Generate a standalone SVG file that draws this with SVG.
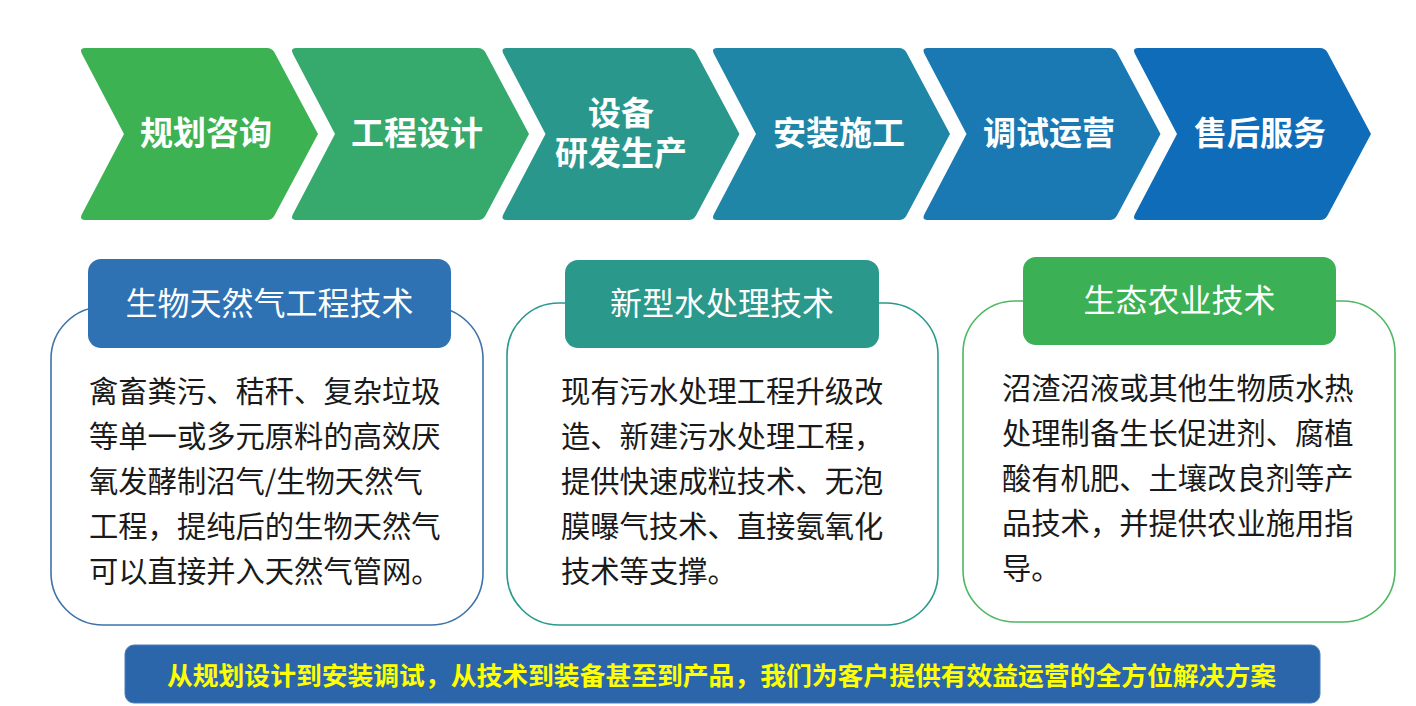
<svg xmlns="http://www.w3.org/2000/svg" width="1416" height="706" viewBox="0 0 1416 706">
<defs>
<path id="chev" d="M 6,0 L 188,0 Q 193,0 195.5,4.5 L 239,86 L 195.5,167.5 Q 193,172 188,172 L 6,172 Q 0,172 3,166 L 45,86 L 3,6 Q 0,0 6,0 Z"/>
</defs>
<style>
.ct{font-family:"Noto Sans CJK SC","Noto Sans",sans-serif;font-weight:700;font-size:33px;fill:#ffffff;text-anchor:middle}
.ht{font-family:"Noto Sans CJK SC","Noto Sans",sans-serif;font-weight:400;font-size:32px;fill:#ffffff;text-anchor:middle}
.bt{font-family:"Noto Sans CJK SC","Noto Sans",sans-serif;font-weight:400;font-size:29.3px;fill:#1a1a1a}
.box{fill:#ffffff;stroke-width:1.6}
.bn{font-family:"Noto Sans CJK SC","Noto Sans",sans-serif;font-weight:700;font-size:25.5px;fill:#ffff00;text-anchor:middle}
</style>
<rect width="1416" height="706" fill="#ffffff"/>
<g id="step1"><use href="#chev" x="79" y="48" fill="#3cb252"/><text class="ct" x="206" y="145">规划咨询</text></g>
<g id="step2"><use href="#chev" x="290" y="48" fill="#36a96c"/><text class="ct" x="417" y="145">工程设计</text></g>
<g id="step3"><use href="#chev" x="500.5" y="48" fill="#29978b"/><text class="ct" x="621" y="125">设备<tspan x="621" y="165">研发生产</tspan></text></g>
<g id="step4"><use href="#chev" x="711" y="48" fill="#2086a8"/><text class="ct" x="839" y="145">安装施工</text></g>
<g id="step5"><use href="#chev" x="921.5" y="48" fill="#1a79b3"/><text class="ct" x="1049" y="145">调试运营</text></g>
<g id="step6"><use href="#chev" x="1132" y="48" fill="#0f6cb9"/><text class="ct" x="1260" y="145">售后服务</text></g>
<g id="connectors"></g>
<g id="card1">
<rect class="box" x="51" y="307" width="432" height="318" rx="52" stroke="#3f73aa"/>
<rect x="88" y="259" width="363" height="89" rx="13" fill="#2f72b4"/>
<text class="ht" x="269.5" y="315">生物天然气工程技术</text>
<text class="bt" x="89" y="402">禽畜粪污、秸秆、复杂垃圾</text>
<text class="bt" x="89" y="447">等单一或多元原料的高效厌</text>
<text class="bt" x="89" y="492">氧发酵制沼气/生物天然气</text>
<text class="bt" x="89" y="537">工程，提纯后的生物天然气</text>
<text class="bt" x="89" y="582">可以直接并入天然气管网。</text>
</g>
<g id="card2">
<rect class="box" x="507" y="303" width="431" height="322" rx="52" stroke="#2a9a8c"/>
<rect x="565" y="260" width="314" height="88" rx="13" fill="#2a988b"/>
<text class="ht" x="722" y="315">新型水处理技术</text>
<text class="bt" x="561" y="402">现有污水处理工程升级改</text>
<text class="bt" x="561" y="447">造、新建污水处理工程，</text>
<text class="bt" x="561" y="492">提供快速成粒技术、无泡</text>
<text class="bt" x="561" y="537">膜曝气技术、直接氨氧化</text>
<text class="bt" x="561" y="582">技术等支撑。</text>
</g>
<g id="card3">
<rect class="box" x="963" y="301" width="432" height="321" rx="52" stroke="#4cb860"/>
<rect x="1023" y="257" width="313" height="88" rx="13" fill="#3cb054"/>
<text class="ht" x="1179.5" y="312">生态农业技术</text>
<text class="bt" x="1002" y="399">沼渣沼液或其他生物质水热</text>
<text class="bt" x="1002" y="444">处理制备生长促进剂、腐植</text>
<text class="bt" x="1002" y="489">酸有机肥、土壤改良剂等产</text>
<text class="bt" x="1002" y="534">品技术，并提供农业施用指</text>
<text class="bt" x="1002" y="579">导。</text>
</g>
<g id="banner">
<rect x="125" y="645" width="1195" height="58" rx="9" fill="#2a66a9" stroke="#4a7fb8" stroke-width="1"/>
<text class="bn" x="721.5" y="685" textLength="1109" lengthAdjust="spacingAndGlyphs">从规划设计到安装调试，从技术到装备甚至到产品，我们为客户提供有效益运营的全方位解决方案</text>
</g>
</svg>
